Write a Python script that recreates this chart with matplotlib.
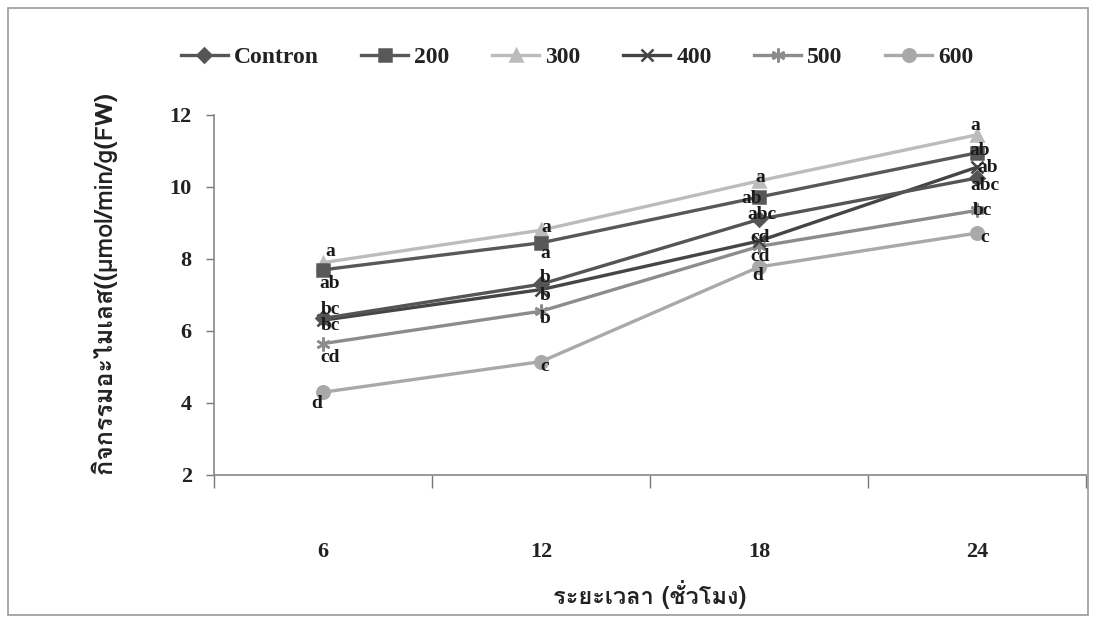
import matplotlib
matplotlib.use("Agg")
import matplotlib.pyplot as plt
from matplotlib import font_manager
from matplotlib.ft2font import FT2Font
from matplotlib.patches import Rectangle

hours = ["6", "12", "18", "24"]
series_names = ["Contron", "200", "300", "400", "500", "600"]

contron = [6.35, 7.3, 9.1, 10.25]
c200 = [7.7, 8.45, 9.72, 10.95]
c300 = [7.9, 8.8, 10.17, 11.45]
c400 = [6.3, 7.15, 8.5, 10.55]
c500 = [5.65, 6.55, 8.35, 9.35]
c600 = [4.3, 5.15, 7.78, 8.72]

lab_contron = ["bc", "b", "abc", "abc"]
lab_200 = ["ab", "a", "ab", "ab"]
lab_300 = ["a", "a", "a", "a"]
lab_400 = ["bc", "b", "cd", "ab"]
lab_500 = ["cd", "b", "cd", "bc"]
lab_600 = ["d", "c", "d", "c"]

values = [contron, c200, c300, c400, c500, c600]
letters = [lab_contron, lab_200, lab_300, lab_400, lab_500, lab_600]


# look for any installed font that can draw Thai
def find_thai_font():
    for f in font_manager.fontManager.ttflist:
        try:
            if 0x0E01 in FT2Font(f.fname).get_charmap():
                return f.name
        except Exception:
            pass
    return None


thai = find_thai_font()
fam = ["Liberation Serif", "DejaVu Serif"]
thai_fam = ([thai] if thai else []) + fam

colors = ["#555555", "#585858", "#bcbcbc", "#454545", "#8c8c8c", "#a9a9a9"]
markers = ["D", "s", "^", "x", (6, 2, 0), "o"]
msizes = [7, 8, 8, 9, 10, 9]

# label offsets in pixels (dx, dy) for each point
offsets = [
    [(7, 9), (4, 7), (3, 5), (8, -7)],
    [(7, -14), (4, -11), (-7, -1), (3, 2)],
    [(7, 11), (5, 3), (1, 3), (-2, 9)],
    [(7, -5), (4, -6), (1, 3), (11, 0)],
    [(7, -14), (4, -7), (1, -10), (5, 0)],
    [(-6, -11), (4, -5), (-1, -9), (8, -4)],
]

fig = plt.figure(figsize=(10.93, 6.23), dpi=100)
ax = fig.add_axes([214 / 1093, 1 - 475 / 623, 872 / 1093, 360 / 623])

x = list(range(len(hours)))
for i, name in enumerate(series_names):
    ax.plot(x, values[i], color=colors[i], lw=2.4, marker=markers[i],
            ms=msizes[i], mew=1.8, mec=colors[i], mfc=colors[i], label=name,
            zorder=3 + (5 - i) * 0.1)
    for j in x:
        ax.annotate(letters[i][j], (j, values[i][j]), xytext=offsets[i][j],
                    textcoords="offset pixels", ha="center", va="center",
                    fontsize=14, fontweight="bold", family=fam, color="#1a1a1a",
                    zorder=6)

ax.set_xlim(-0.5, 3.5)
ax.set_ylim(2, 12)
ax.set_yticks([2, 4, 6, 8, 10, 12])
ax.set_xticks([-0.5, 0.5, 1.5, 2.5, 3.5])
ax.set_xticklabels([])
ax.set_xticks(x, minor=True)
ax.set_xticklabels(hours, minor=True)
ax.tick_params(axis="x", which="major", direction="out", length=9, width=1, color="#777777")
ax.tick_params(axis="x", which="minor", length=0, pad=48)
ax.tick_params(axis="y", direction="out", length=6, width=1, color="#777777", pad=10)
for lbl in ax.get_xticklabels(minor=True) + ax.get_yticklabels():
    lbl.set_fontsize(16)
    lbl.set_fontweight("bold")
    lbl.set_family(fam)
    lbl.set_color("#222222")

for s in ["top", "right"]:
    ax.spines[s].set_visible(False)
for s in ["left", "bottom"]:
    ax.spines[s].set_color("#888888")
    ax.spines[s].set_linewidth(1.2)

ax.set_xlabel("ระยะเวลา (ชั่วโมง)", fontsize=17, fontweight="bold",
              family=thai_fam, color="#222222", labelpad=13)
ax.set_ylabel("กิจกรรมอะไมเลส((µmol/min/g(FW)", fontsize=18, fontweight="bold",
              family=thai_fam, color="#222222")
ax.yaxis.set_label_coords(-97 / 872, 0.533)

leg = ax.legend(loc="center", bbox_to_anchor=(577 / 1093, 1 - 57 / 623),
                bbox_transform=fig.transFigure, ncol=6, frameon=False,
                handlelength=2.0, handletextpad=0.25, columnspacing=1.8,
                prop={"family": fam, "weight": "bold", "size": 17})
for t in leg.get_texts():
    t.set_color("#222222")

# outer frame around the chart
fig.patches.append(Rectangle((8 / 1093, 8 / 623), 1080 / 1093, 607 / 623,
                             transform=fig.transFigure, fill=False,
                             edgecolor="#999999", lw=1.2))

fig.savefig("out.png", dpi=100)
